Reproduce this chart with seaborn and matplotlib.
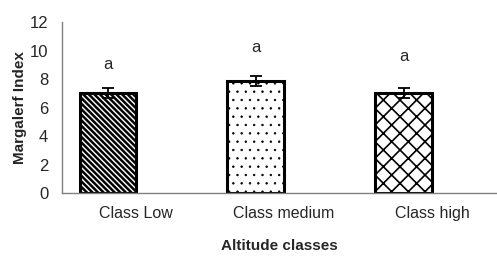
import pandas as pd
import matplotlib.pyplot as plt
import seaborn as sns

# Data
classes = ["Class Low", "Class medium", "Class high"]
margalef = [7.0, 7.85, 7.0]
se = [0.35, 0.35, 0.35]
letters = ["a", "a", "a"]
letter_y = [9.0, 10.2, 9.6]
hatches = ["\\" * 6, "..", "xx"]

df = pd.DataFrame({"Altitude classes": classes, "Margalerf Index": margalef})

sns.set_style("white")
plt.rcParams["font.family"] = ["Liberation Sans", "DejaVu Sans"]
plt.rcParams["hatch.linewidth"] = 1.5

fig = plt.figure(figsize=(4.97, 2.56), dpi=100)
ax = fig.add_axes([0.125, 0.246, 0.875, 0.668])

sns.barplot(data=df, x="Altitude classes", y="Margalerf Index", color="white",
            edgecolor="black", linewidth=2.2, width=0.385, errorbar=None, ax=ax)

# bars sit left of the category label in the original
shift = -0.19
for patch, h in zip(ax.patches, hatches):
    patch.set_x(patch.get_x() + shift)
    patch.set_hatch(h)
    if hasattr(patch, "set_hatch_linewidth"):
        patch.set_hatch_linewidth({"\\": 1.8, ".": 0.5, "x": 1.2}[h[0]])

xpos = [i + shift for i in range(len(classes))]
ax.errorbar(xpos, margalef, yerr=se, fmt="none", ecolor="black",
            elinewidth=1.3, capsize=4.5, capthick=1.3)

for x, t, y in zip(xpos, letters, letter_y):
    ax.text(x, y, t, ha="center", va="center", fontsize=12)

ax.set_xlim(-0.5, 2.44)
ax.set_ylim(0, 12)
ax.set_yticks(range(0, 13, 2))
ax.tick_params(axis="y", length=0, labelsize=12, pad=10)
ax.tick_params(axis="x", length=0, labelsize=11.5, pad=9)
ax.set_xticks([0.5, 1.5], minor=True)
ax.tick_params(axis="x", which="minor", length=4, color="#808080", width=1)

for s in ["top", "right"]:
    ax.spines[s].set_visible(False)
for s in ["left", "bottom"]:
    ax.spines[s].set_color("#808080")
    ax.spines[s].set_linewidth(1)

ax.set_xlabel("Altitude classes", fontsize=11, fontweight="bold", labelpad=13)
ax.set_ylabel("Margalerf Index", fontsize=11, fontweight="bold", labelpad=2)

fig.savefig("out.png", dpi=100)
